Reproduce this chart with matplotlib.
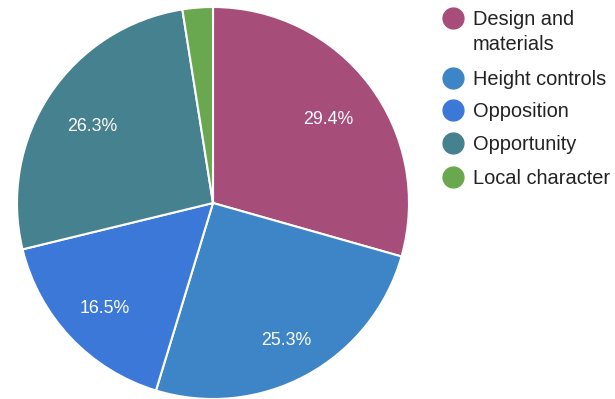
import numpy as np
import matplotlib.pyplot as plt
from matplotlib.lines import Line2D

plt.rcParams["font.family"] = ["Liberation Sans", "DejaVu Sans"]

labels = ["Design and\nmaterials", "Height controls", "Opposition", "Opportunity", "Local character"]
shares = [29.4, 25.3, 16.5, 26.3, 2.5]
colors = ["#a64d79", "#3d85c6", "#3c78d8", "#45818e", "#6aa84f"]
# radial position of each percent label (fraction of radius)
label_dist = [0.74, 0.78, 0.76, 0.74, 0.0]

W, H = 615, 399
fig = plt.figure(figsize=(W / 100, H / 100), dpi=100)

# pie centre and radius in pixels
cx, cy, r = 213, 203, 196
ax = fig.add_axes([(cx - r) / W, (H - cy - r) / H, 2 * r / W, 2 * r / H])

wedges, _ = ax.pie(
    shares, colors=colors, startangle=90, counterclock=False,
    wedgeprops=dict(edgecolor="white", linewidth=1.5), radius=1,
)
for w, val, d in zip(wedges, shares, label_dist):
    if val < 5:
        continue
    mid = np.deg2rad((w.theta1 + w.theta2) / 2)
    ax.text(d * np.cos(mid), d * np.sin(mid) - 0.018, f"{val:.1f}%", color="white",
            fontsize=12.8, ha="center", va="center")
ax.set_xlim(-1, 1)
ax.set_ylim(-1, 1)
ax.set_aspect("equal")
ax.axis("off")

# legend drawn by hand
rows = [18, 78, 110, 143, 177]
for lab, col, y in zip(labels, colors, rows):
    fig.add_artist(Line2D([453 / W], [1 - y / H], marker="o", markersize=15,
                          color=col, transform=fig.transFigure))
    fig.text(473 / W, 1 - (y - 8) / H, lab, fontsize=14.4, color="#222222",
             va="top", ha="left", linespacing=1.4)

fig.savefig("out.png", dpi=100)
